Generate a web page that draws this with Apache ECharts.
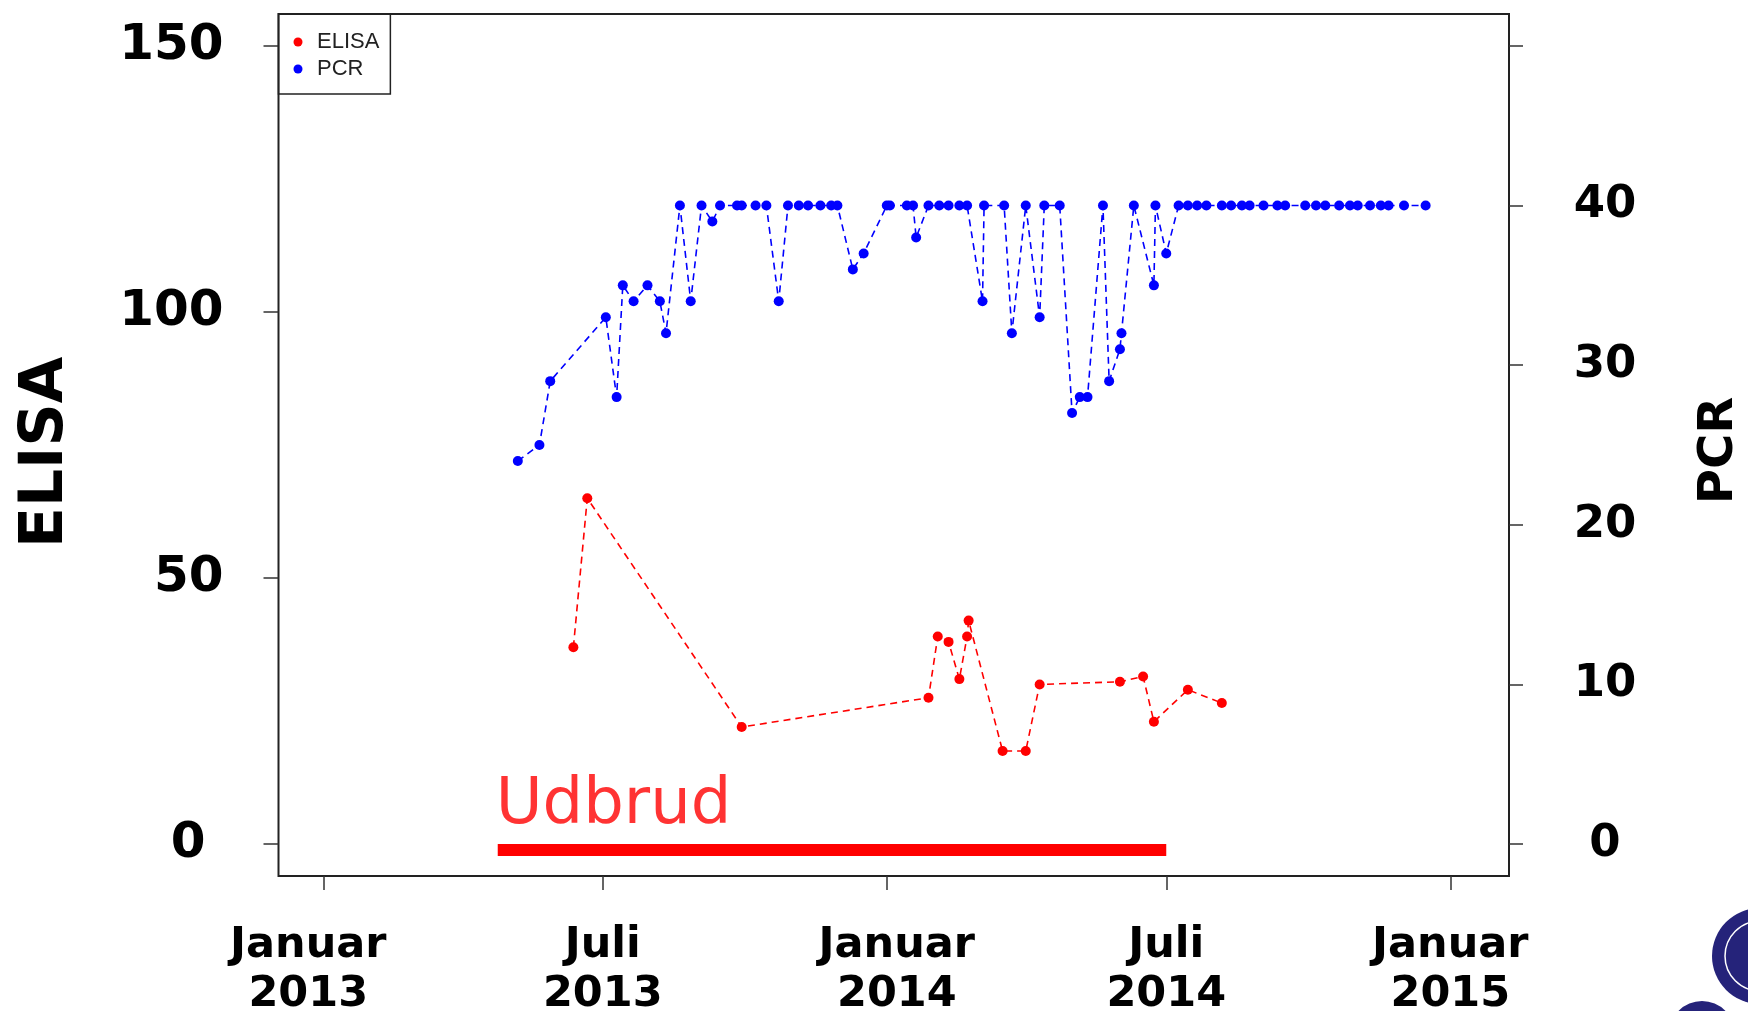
<!DOCTYPE html>
<html>
<head>
<meta charset="utf-8">
<title>ELISA og PCR</title>
<script src="https://cdn.jsdelivr.net/npm/echarts@6/dist/echarts.min.js"></script>
<style>
    html, body { margin: 0; padding: 0; background: #fff; }
    #main { width: 1748px; height: 1011px; }
</style>
</head>
<body>
<div id="main"></div>
<script>
    // ELISA (venstre akse)
    var elisaDates = ['2013-06-12', '2013-06-21', '2013-09-29', '2014-01-28', '2014-02-03', '2014-02-10',
        '2014-02-17', '2014-02-22', '2014-02-23', '2014-03-17', '2014-04-01', '2014-04-10',
        '2014-06-01', '2014-06-16', '2014-06-23', '2014-07-15', '2014-08-06'];
    var elisaValues = [37, 65, 22, 27.5, 39, 38, 31, 39, 42, 17.5, 17.5, 30, 30.5, 31.5, 23, 29, 26.5];

    // PCR (hoejre akse)
    var pcrDates = ['2013-05-07', '2013-05-21', '2013-05-28', '2013-07-03', '2013-07-10', '2013-07-14',
        '2013-07-21', '2013-07-30', '2013-08-07', '2013-08-11', '2013-08-20', '2013-08-27',
        '2013-09-03', '2013-09-10', '2013-09-15', '2013-09-26', '2013-09-29', '2013-10-08',
        '2013-10-15', '2013-10-23', '2013-10-29', '2013-11-05', '2013-11-11', '2013-11-19',
        '2013-11-26', '2013-11-30', '2013-12-10', '2013-12-17', '2014-01-01', '2014-01-03',
        '2014-01-14', '2014-01-18', '2014-01-20', '2014-01-28', '2014-02-04', '2014-02-10',
        '2014-02-17', '2014-02-22', '2014-03-04', '2014-03-05', '2014-03-18', '2014-03-23',
        '2014-04-01', '2014-04-10', '2014-04-13', '2014-04-23', '2014-05-01', '2014-05-06',
        '2014-05-11', '2014-05-21', '2014-05-25', '2014-06-01', '2014-06-02', '2014-06-10',
        '2014-06-23', '2014-06-24', '2014-07-01', '2014-07-09', '2014-07-15', '2014-07-21',
        '2014-07-27', '2014-08-06', '2014-08-12', '2014-08-19', '2014-08-24', '2014-09-02',
        '2014-09-11', '2014-09-16', '2014-09-29', '2014-10-06', '2014-10-12', '2014-10-21',
        '2014-10-28', '2014-11-02', '2014-11-10', '2014-11-17', '2014-11-22', '2014-12-02',
        '2014-12-16'];
    var pcrValues = [24, 25, 29, 33, 28, 35, 34, 35, 34, 32, 40, 34,
        40, 39, 40, 40, 40, 40, 40, 34, 40, 40, 40, 40,
        40, 40, 36, 37, 40, 40, 40, 40, 38, 40, 40, 40,
        40, 40, 34, 40, 40, 32, 40, 33, 40, 40, 27, 28,
        28, 40, 29, 31, 32, 40, 35, 40, 37, 40, 40, 40,
        40, 40, 40, 40, 40, 40, 40, 40, 40, 40, 40, 40,
        40, 40, 40, 40, 40, 40, 40];

    // udbrudsperiode
    var outbreakDates = ['2013-04-24', '2014-07-01'];
    var outbreakLevel = -1.1;

    // akser
    var xTickDates = ['2013-01-01', '2013-07-01', '2014-01-01', '2014-07-01', '2015-01-01'];
    var xTickLabels = ['Januar\n2013', 'Juli\n2013', 'Januar\n2014', 'Juli\n2014', 'Januar\n2015'];
    var elisaTicks = [0, 50, 100, 150];
    var pcrTicks = [0, 10, 20, 30, 40, 50];
    var pcrLabels = [0, 10, 20, 30, 40];

    function ts(s) {
        var p = s.split('-');
        return Date.UTC(+p[0], +p[1] - 1, +p[2]);
    }
    function pairs(ds, vs) {
        return ds.map(function (d, i) { return [ts(d), vs[i]]; });
    }

    var xStamps = xTickDates.map(ts);
    var xNudge = [-15, 0, 10, 0, 0];   // label shifts, px
    var boldFont = {fontFamily: 'DejaVu Sans', fontWeight: 'bold', color: '#000'};
    var xRich = {};
    xNudge.forEach(function (n, i) {
        xRich['s' + i] = Object.assign({}, boldFont, {
            fontSize: 43, lineHeight: 49,
            padding: n < 0 ? [0, -2 * n, 0, 0] : [0, 0, 0, 2 * n]
        });
    });

    var myChart = echarts.init(document.getElementById('main'));
    var option = {
        animation: false,
        backgroundColor: '#fff',
        grid: {
            left: 278.5, right: 239, top: 14, bottom: 135,
            show: true, borderColor: '#222', borderWidth: 2,
            outerBoundsMode: 'none'
        },
        legend: {
            data: ['ELISA', 'PCR'],
            orient: 'vertical',
            left: 278.5, top: 14,
            padding: [17, 11, 14, 15],
            itemGap: 5, itemWidth: 28, itemHeight: 9,
            icon: 'circle',
            borderColor: '#222', borderWidth: 1.5,
            selectedMode: false,
            textStyle: {fontFamily: 'Liberation Sans', fontSize: 22, lineHeight: 22, color: '#222'}
        },
        xAxis: {
            type: 'value',
            min: ts('2012-12-03'),
            max: ts('2015-02-08'),
            axisLine: {show: false, onZero: false},
            splitLine: {show: false},
            axisTick: {
                show: true, length: 14, customValues: xStamps,
                lineStyle: {color: '#333', width: 1.5}
            },
            axisLabel: {
                customValues: xStamps,
                margin: 45,
                formatter: function (v) {
                    var i = xStamps.indexOf(v);
                    if (i < 0) return '';
                    return xTickLabels[i].split('\n').map(function (t) {
                        return '{s' + i + '|' + t + '}';
                    }).join('\n');
                },
                rich: xRich
            }
        },
        yAxis: [{
            type: 'value',
            min: -6, max: 156,
            name: 'ELISA',
            nameLocation: 'middle',
            nameRotate: 90,
            nameGap: 202,
            nameTextStyle: Object.assign({}, boldFont, {fontSize: 60, lineHeight: 60, padding: [0, 15, 0, 0]}),
            axisLine: {show: false, onZero: false},
            splitLine: {show: false},
            axisTick: {show: true, length: 15, customValues: elisaTicks, lineStyle: {color: '#333', width: 1.5}},
            axisLabel: Object.assign({}, boldFont, {
                customValues: elisaTicks,
                fontSize: 50,
                margin: 55,
                formatter: function (v) { return v === 0 ? '{z|0}' : String(v); },
                rich: {z: Object.assign({}, boldFont, {fontSize: 50, padding: [0, 18, 0, 0]})}
            })
        }, {
            type: 'value',
            position: 'right',
            min: -2, max: 52,
            name: 'PCR',
            nameLocation: 'middle',
            nameRotate: 90,
            nameGap: 187,
            nameTextStyle: Object.assign({}, boldFont, {fontSize: 48, lineHeight: 48, padding: [0, 11, 0, 0]}),
            axisLine: {show: false, onZero: false},
            splitLine: {show: false},
            axisTick: {show: true, length: 14, customValues: pcrTicks, lineStyle: {color: '#333', width: 1.5}},
            axisLabel: Object.assign({}, boldFont, {
                customValues: pcrLabels,
                fontSize: 45,
                align: 'center',
                margin: 96
            })
        }],
        series: [{
            name: 'Udbrud',
            type: 'line',
            yAxisIndex: 0,
            data: pairs(outbreakDates, [outbreakLevel, outbreakLevel]),
            symbol: 'none',
            silent: true,
            z: 1,
            lineStyle: {color: '#ff0000', width: 12, type: 'solid', cap: 'butt'}
        }, {
            name: 'UdbrudTekst',
            type: 'scatter',
            yAxisIndex: 0,
            data: [[ts(outbreakDates[0]), outbreakLevel]],
            symbolSize: 1,
            itemStyle: {color: 'rgba(0,0,0,0)'},
            silent: true,
            label: {
                show: true,
                formatter: 'Udbrud',
                position: 'top',
                distance: 0,
                align: 'left',
                verticalAlign: 'bottom',
                offset: [-2, -11.5],
                fontFamily: 'DejaVu Sans',
                fontSize: 64,
                lineHeight: 64,
                color: '#ff0000'
            }
        }, {
            name: 'ELISA',
            type: 'line',
            yAxisIndex: 0,
            data: pairs(elisaDates, elisaValues),
            symbol: 'circle',
            symbolSize: 10,
            itemStyle: {color: '#ff0000'},
            lineStyle: {color: '#ff0000', width: 1.6, type: [7, 5]}
        }, {
            name: 'PCR',
            type: 'line',
            yAxisIndex: 1,
            data: pairs(pcrDates, pcrValues),
            symbol: 'circle',
            symbolSize: 10,
            itemStyle: {color: '#0000ff'},
            lineStyle: {color: '#0000ff', width: 1.6, type: [7, 5]}
        }],
        graphic: [
            {type: 'circle', silent: true, shape: {cx: 1760, cy: 956, r: 48}, style: {fill: '#25237a'}},
            {type: 'circle', silent: true, shape: {cx: 1760, cy: 956, r: 35}, style: {fill: 'none', stroke: '#ffffff', lineWidth: 1.5}},
            {type: 'circle', silent: true, shape: {cx: 1702, cy: 1034, r: 33}, style: {fill: '#25237a'}}
        ]
    };
    myChart.setOption(option);
</script>
</body>
</html>
